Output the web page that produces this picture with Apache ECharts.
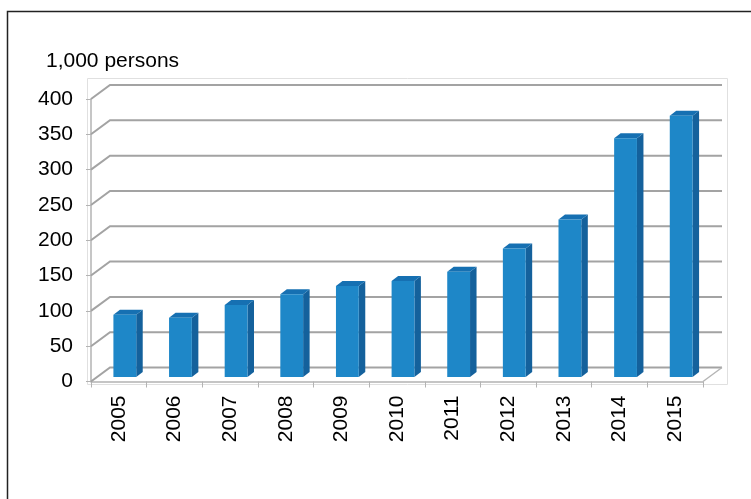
<!DOCTYPE html>
<html>
<head>
<meta charset="utf-8">
<script src="https://cdn.jsdelivr.net/npm/echarts@6/dist/echarts.min.js"></script>
<style>
  html, body { margin: 0; padding: 0; background: #fff; }
  #chart { width: 751px; height: 499px; }
</style>
</head>
<body>
<div id="chart"></div>
<script>
  var years = ['2005', '2006', '2007', '2008', '2009', '2010', '2011', '2012', '2013', '2014', '2015'];
  var persons = [88, 84, 102, 117, 129, 136, 149, 182, 223, 338, 370];
  var yTicks = [0, 50, 100, 150, 200, 250, 300, 350, 400];
  var unitLabel = '1,000 persons';

  // oblique depth of the 3d box (back wall offset) and bar placement in it
  var depth = [19, -14];
  var barFront = [6, -4.5];
  var barDepth = [6.5, -5];
  var font = 'Liberation Sans, Arial, sans-serif';

  var chart = echarts.init(document.getElementById('chart'));

  function renderWall(params, api) {
    var cs = params.coordSys;
    var y = api.coord([0, api.value(1)])[1];
    var x0 = cs.x, x1 = cs.x + cs.width;
    var children = [{
      type: 'polyline',
      shape: { points: [[x0, y], [x0 + depth[0], y + depth[1]], [x1 + depth[0], y + depth[1]]] },
      style: { stroke: '#a3a3a3', lineWidth: 2, fill: null }
    }];
    if (api.value(1) === 0) {
      children.push({
        type: 'line',
        shape: { x1: x1, y1: y, x2: x1 + depth[0], y2: y + depth[1] },
        style: { stroke: '#b5b5b5', lineWidth: 1.5 }
      });
    }
    return { type: 'group', children: children };
  }

  function renderBar(params, api) {
    var top = api.coord([api.value(0), api.value(1)]);
    var base = api.coord([api.value(0), 0]);
    var w = api.size([1, 0])[0] * 0.41;
    var xl = top[0] - w / 2 + barFront[0], xr = xl + w;
    var yt = top[1] + barFront[1], yb = base[1] + barFront[1];
    var dx = barDepth[0], dy = barDepth[1];
    return {
      type: 'group',
      children: [{
        type: 'polygon',
        shape: { points: [[xr, yt], [xr + dx, yt + dy], [xr + dx, yb + dy], [xr, yb]] },
        style: { fill: '#14619c' }
      }, {
        type: 'polygon',
        shape: { points: [[xl, yt], [xl + dx, yt + dy], [xr + dx, yt + dy], [xr, yt]] },
        style: { fill: '#1670b2' }
      }, {
        type: 'rect',
        shape: { x: xl, y: yt, width: w, height: yb - yt },
        style: { fill: '#1e87c8' }
      }]
    };
  }

  chart.setOption({
    backgroundColor: '#fff',
    animation: false,
    title: {
      text: unitLabel,
      left: 41,
      top: 46,
      textStyle: { fontFamily: font, fontSize: 21, fontWeight: 'normal', color: '#000' }
    },
    graphic: [{
      type: 'rect',
      shape: { x: 7.5, y: 11.5, width: 800, height: 600 },
      style: { fill: null, stroke: '#222', lineWidth: 1.5 },
      z: 100
    }, {
      type: 'rect',
      shape: { x: 87.5, y: 78.5, width: 640, height: 306 },
      style: { fill: null, stroke: '#e0e0e0', lineWidth: 1 },
      z: 0
    }],
    grid: { left: 91, right: 48, top: 99, bottom: 117.5 },
    xAxis: {
      type: 'category',
      data: years,
      axisLine: { lineStyle: { color: '#b3b3b3', width: 1.5 } },
      axisTick: { show: true, length: 6, lineStyle: { color: '#b3b3b3' } },
      axisLabel: { rotate: 90, margin: 14, color: '#000', fontFamily: font, fontSize: 21 },
      splitLine: { show: false }
    },
    yAxis: {
      type: 'value',
      min: 0,
      max: 400,
      interval: 50,
      axisLine: { show: true, lineStyle: { color: '#b3b3b3', width: 1.5 } },
      axisTick: { show: true, length: 5, lineStyle: { color: '#b3b3b3' } },
      axisLabel: { margin: 18, color: '#000', fontFamily: font, fontSize: 21 },
      splitLine: { show: false }
    },
    series: [{
      type: 'custom',
      name: 'walls',
      renderItem: renderWall,
      data: yTicks.map(function (v) { return [0, v]; }),
      z: 1,
      silent: true
    }, {
      type: 'custom',
      name: unitLabel,
      renderItem: renderBar,
      data: persons.map(function (v, i) { return [i, v]; }),
      z: 2
    }]
  });
</script>
</body>
</html>
